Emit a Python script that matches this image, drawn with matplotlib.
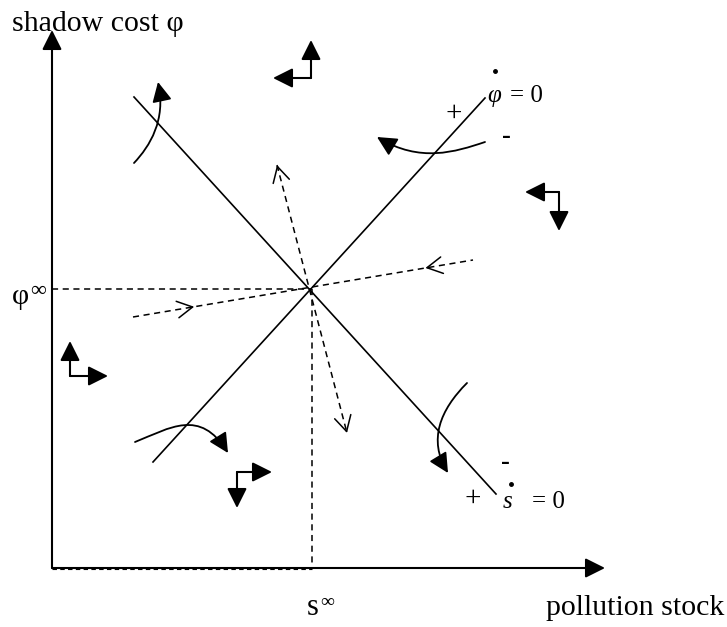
import matplotlib.pyplot as plt
from matplotlib.path import Path
from matplotlib.patches import FancyArrowPatch

plt.rcParams['font.family'] = ['Liberation Serif', 'DejaVu Serif']

# everything is laid out in the pixel space of the original sketch (y grows downwards)
axis_origin = (52, 568)
x_axis_end = (605, 568)
y_axis_end = (52, 30)

steady_s, steady_phi = 312, 289

# phi-dot = 0 nullcline (rising) and s-dot = 0 nullcline (falling)
phi_null_x = [153, 485]
phi_null_y = [462, 98]
s_null_x = [134, 496]
s_null_y = [97, 494]

# saddle paths (dashed)
stable_x = [133, 473]
stable_y = [317, 260]
unstable_x = [277, 347]
unstable_y = [165, 433]

# curved trajectories: start, two control points, arrow tip
traj_1 = [(134, 163), (150, 146), (166, 120), (158, 82)]
traj_2 = [(485, 142), (455, 152), (420, 163), (377, 137)]
traj_3 = [(135, 442), (170, 428), (200, 408), (228, 453)]
traj_4 = [(467, 383), (440, 410), (428, 440), (448, 473)]

# direction crosses: corner, horizontal tip, vertical tip
cross_corner = [(311, 78), (559, 192), (70, 376), (237, 472)]
cross_h_tip = [(273, 78), (525, 192), (108, 376), (272, 472)]
cross_v_tip = [(311, 40), (559, 231), (70, 341), (237, 508)]

fig = plt.figure(figsize=(7.27, 6.27), dpi=100)
ax = fig.add_axes([0, 0, 1, 1])
ax.set_xlim(0, 727)
ax.set_ylim(627, 0)
ax.axis('off')

head = '-|>,head_length=0.6,head_width=0.3'
chev = '->,head_length=0.55,head_width=0.3'


def arrow(p0, p1, style=head, lw=1.2, ms=20):
    ax.annotate('', xy=p1, xytext=p0,
                arrowprops=dict(arrowstyle=style, color='k', lw=lw,
                                mutation_scale=ms, shrinkA=0, shrinkB=0))


# axes
arrow(axis_origin, x_axis_end, lw=1.5)
arrow(axis_origin, y_axis_end, lw=1.5)

# steady state guides
dash = (0, (4, 3))
ax.plot([axis_origin[0], steady_s], [steady_phi, steady_phi], 'k', lw=1.1, ls=dash)
ax.plot([steady_s, steady_s], [steady_phi, axis_origin[1]], 'k', lw=1.1, ls=dash)
ax.plot([axis_origin[0], steady_s], [axis_origin[1] + 1, axis_origin[1] + 1], 'k', lw=0.8, ls=dash)

# nullclines
ax.plot(phi_null_x, phi_null_y, 'k', lw=1.2)
ax.plot(s_null_x, s_null_y, 'k', lw=1.2)

# saddle paths
ax.plot(stable_x, stable_y, 'k', lw=1.1, ls=dash)
ax.plot(unstable_x, unstable_y, 'k', lw=1.1, ls=dash)


def chevron(xs, ys, t, towards_end=True):
    dx, dy = xs[1] - xs[0], ys[1] - ys[0]
    tip = (xs[0] + t * dx, ys[0] + t * dy)
    sgn = 1 if towards_end else -1
    tail = (tip[0] - sgn * 0.01 * dx, tip[1] - sgn * 0.01 * dy)
    arrow(tail, tip, style=chev, lw=1.1, ms=20)


chevron(stable_x, stable_y, 0.18, True)
chevron(stable_x, stable_y, 0.86, False)
chevron(unstable_x, unstable_y, 0.0, False)
chevron(unstable_x, unstable_y, 1.0, True)

# curved trajectories
for tr in [traj_1, traj_2, traj_3, traj_4]:
    p = Path(tr, [Path.MOVETO, Path.CURVE4, Path.CURVE4, Path.CURVE4])
    ax.add_patch(FancyArrowPatch(path=p, arrowstyle=head, color='k', lw=1.3,
                                 mutation_scale=20, shrinkA=0, shrinkB=0))

# direction crosses
for c, h, v in zip(cross_corner, cross_h_tip, cross_v_tip):
    arrow(c, h, lw=1.5)
    arrow(c, v, lw=1.5)

# labels
ax.text(12, 31, 'shadow cost φ', fontsize=21.5, va='baseline', ha='left')
ax.text(12, 304, 'φ', fontsize=21.5, va='baseline', ha='left')
ax.text(30, 296, '∞', fontsize=16, va='baseline', ha='left')
ax.text(307, 615, 's', fontsize=22, va='baseline', ha='left')
ax.text(320, 607, '∞', fontsize=14, va='baseline', ha='left')
ax.text(546, 615, 'pollution stock', fontsize=21.5, va='baseline', ha='left')

ax.text(454, 114, '+', fontsize=21, va='center', ha='center')
ax.text(506, 137, '-', fontsize=19, va='center', ha='center', fontweight='bold')
ax.plot(495, 71, 'k.', ms=5)
ax.text(487, 102, 'φ', fontsize=18, style='italic', va='baseline', ha='left')
ax.text(510, 102, '= 0', fontsize=18, va='baseline', ha='left')

ax.text(505, 463, '-', fontsize=19, va='center', ha='center', fontweight='bold')
ax.text(473, 499, '+', fontsize=21, va='center', ha='center')
ax.plot(511, 484, 'k.', ms=5)
ax.text(503, 508, 's', fontsize=18, style='italic', va='baseline', ha='left')
ax.text(532, 508, '= 0', fontsize=18, va='baseline', ha='left')

fig.savefig('out.png', dpi=100)
